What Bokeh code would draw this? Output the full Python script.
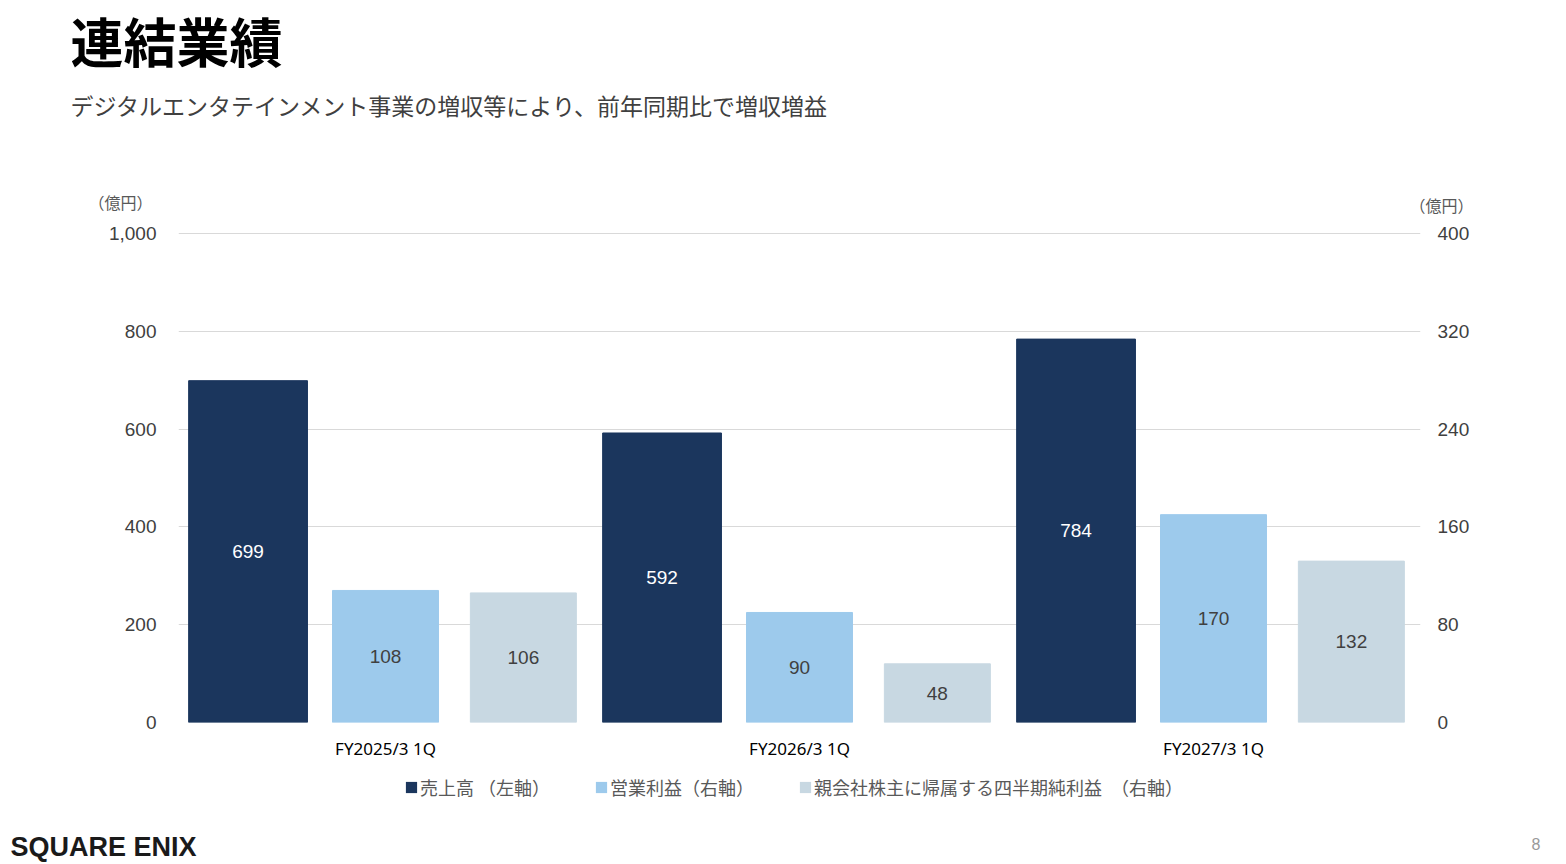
from bokeh.plotting import figure
from bokeh.layouts import column
from bokeh.models import (ColumnDataSource, FactorRange, Range1d, LinearAxis, FixedTicker,
                          NumeralTickFormatter, Label, Legend, LegendItem)
from bokeh.transform import dodge
from bokeh.core.properties import value
from bokeh.embed import file_html
from bokeh.resources import INLINE

# ---- data ----
categories = ["FY2025/3 1Q", "FY2026/3 1Q", "FY2027/3 1Q"]
sales = [699, 592, 784]              # 売上高 (left axis)
operating_income = [108, 90, 170]    # 営業利益 (right axis)
net_income = [106, 48, 132]          # 親会社株主に帰属する四半期純利益 (right axis)
left_ticks = [0, 200, 400, 600, 800, 1000]
right_ticks = [0, 80, 160, 240, 320, 400]
series_names = ["売上高 （左軸）", "営業利益（右軸）", "親会社株主に帰属する四半期純利益　（右軸）"]
title_text = "連結業績"
subtitle_text = "デジタルエンタテインメント事業の増収等により、前年同期比で増収増益"
unit_text = "（億円）"
logo_text = "SQUARE ENIX"
page_text = "8"

colors = ["#1b365d", "#9dcaec", "#c8d8e2"]
JP = "Noto Sans CJK JP"
NUM = "Liberation Sans"
W = 1566
H_HEAD, H_MAIN, H_FOOT = 215, 555, 94


def lab(fig, x, y, text, **kw):
    fig.add_layout(Label(x=x, y=y, x_units="screen", y_units="screen", text=text, **kw))


src = ColumnDataSource(dict(
    cat=categories,
    sales=sales, sales_mid=[v / 2 for v in sales], sales_txt=[str(v) for v in sales],
    op=operating_income, op_mid=[v / 2 for v in operating_income], op_txt=[str(v) for v in operating_income],
    net=net_income, net_mid=[v / 2 for v in net_income], net_txt=[str(v) for v in net_income],
))

# ---- header ----
head = figure(width=W, height=H_HEAD, x_range=Range1d(0, 1), y_range=Range1d(0, 1),
              output_backend="svg", toolbar_location=None, frame_align=False,
              x_axis_location=None, y_axis_location=None, min_border=0)
head.outline_line_color = None
head.grid.visible = False
lab(head, 70, H_HEAD - 39, title_text, text_font=JP, text_font_style="bold",
    text_font_size="53px", text_color="#000000", text_baseline="middle")
lab(head, 70, H_HEAD - 104, subtitle_text, text_font=JP, text_font_size="23px",
    text_color="#404040", text_baseline="middle")
lab(head, 120, H_HEAD - 201, unit_text, text_font=JP, text_font_size="16px",
    text_color="#595959", text_align="center", text_baseline="middle")
lab(head, 1441, H_HEAD - 204, unit_text, text_font=JP, text_font_size="16px",
    text_color="#595959", text_align="center", text_baseline="middle")

# ---- main chart ----
p = figure(width=W, height=H_MAIN, x_range=FactorRange(*categories), y_range=Range1d(0, 1002),
           output_backend="svg", toolbar_location=None, frame_align=False,
           min_border_left=178, min_border_right=146, min_border_top=17, min_border_bottom=48)
p.extra_y_ranges = {"right": Range1d(0, 400.8)}
p.outline_line_color = None

yax = p.yaxis[0]
yax.ticker = FixedTicker(ticks=left_ticks)
yax.formatter = NumeralTickFormatter(format="0,0")

rax = LinearAxis(y_range_name="right", ticker=FixedTicker(ticks=right_ticks))
p.add_layout(rax, "right")

for ax, standoff in ((yax, 22), (rax, 17)):
    ax.axis_line_color = None
    ax.major_tick_line_color = None
    ax.minor_tick_line_color = None
    ax.major_tick_out = 0
    ax.minor_tick_out = 0
    ax.major_label_text_font = NUM
    ax.major_label_text_font_size = "19px"
    ax.major_label_text_color = "#404040"
    ax.major_label_standoff = standoff

xax = p.xaxis[0]
xax.axis_line_color = None
xax.major_tick_line_color = None
xax.major_tick_out = 0
xax.major_label_text_font = "Noto Sans"
xax.major_label_text_font_size = "17px"
xax.major_label_text_color = "#000000"
xax.major_label_standoff = 14

p.xgrid.grid_line_color = None
p.ygrid.ticker = FixedTicker(ticks=left_ticks)
p.ygrid.grid_line_color = "#d9d9d9"
p.ygrid.grid_line_width = 1

bar_specs = [("sales", -0.332, 0.287, "default", "white"),
             ("op", 0.0, 0.256, "right", "#404040"),
             ("net", 0.333, 0.256, "right", "#404040")]
for (col, off, wid, rng, tcol), c in zip(bar_specs, colors):
    p.vbar(x=dodge("cat", off, range=p.x_range), top=col, width=wid, source=src,
           fill_color=c, line_color=c, y_range_name=rng)
    p.text(x=dodge("cat", off, range=p.x_range), y=col + "_mid", text=col + "_txt", source=src,
           text_align="center", text_baseline="middle", text_font=value(NUM),
           text_font_size="19px", text_color=tcol, y_range_name=rng)

# ---- footer: legend, logo, page number ----
foot = figure(width=W, height=H_FOOT, x_range=FactorRange(*categories), y_range=Range1d(5000, 6000),
              output_backend="svg", toolbar_location=None, frame_align=False,
              x_axis_location=None, y_axis_location=None, min_border=0)
foot.outline_line_color = None
foot.grid.visible = False
# same series, lying far below the footer's visible range; they only feed the legend swatches
legend_renderers = [foot.vbar(x="cat", top=col, width=0.25, source=src, fill_color=c, line_color=None)
                    for (col, *_), c in zip(bar_specs, colors)]
legend = Legend(items=[LegendItem(label=n, renderers=[r]) for n, r in zip(series_names, legend_renderers)],
                location=(404, H_FOOT - 30), orientation="horizontal",
                glyph_width=14, glyph_height=14, label_standoff=2, spacing=44,
                padding=0, margin=0, border_line_color=None, background_fill_alpha=0,
                label_text_font=JP, label_text_font_size="18px", label_text_color="#595959",
                label_height=20)
foot.add_layout(legend)
lab(foot, 10, H_FOOT - 76, logo_text, text_font=NUM, text_font_style="bold",
    text_font_size="27px", text_color="#1a1a1a", text_baseline="middle")
lab(foot, 1531, H_FOOT - 73, page_text, text_font=NUM, text_font_size="16px",
    text_color="#999999", text_baseline="middle")

layout = column(head, p, foot, spacing=0)
open("out.html", "w").write(file_html(layout, INLINE))
